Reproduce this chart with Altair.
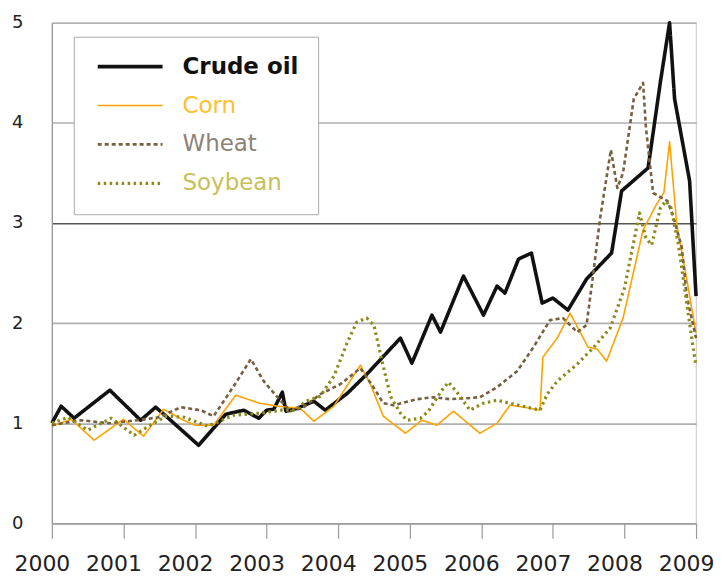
import altair as alt
import pandas as pd

# ---------------- data ----------------
series_names = ["Crude oil", "Corn", "Wheat", "Soybean"]
year_ticks = [2000, 2001, 2002, 2003, 2004, 2005, 2006, 2007, 2008, 2009]
value_ticks = [0, 1, 2, 3, 4, 5]

crude_t = [2000.00, 2000.13, 2000.31, 2000.81, 2001.24, 2001.45, 2001.58, 2002.05,
           2002.43, 2002.68, 2002.89, 2003.00, 2003.10, 2003.22, 2003.27, 2003.43,
           2003.66, 2003.82, 2004.13, 2004.40, 2004.87, 2005.03, 2005.31, 2005.43,
           2005.75, 2006.03, 2006.22, 2006.33, 2006.52, 2006.70, 2006.85, 2007.00,
           2007.21, 2007.47, 2007.82, 2007.96, 2008.33, 2008.50, 2008.63, 2008.70,
           2008.91, 2009.00]
crude_v = [1.00, 1.17, 1.05, 1.33, 1.03, 1.16, 1.08, 0.78,
           1.09, 1.13, 1.05, 1.13, 1.14, 1.31, 1.12, 1.15,
           1.22, 1.13, 1.30, 1.49, 1.85, 1.60, 2.08, 1.91,
           2.47, 2.08, 2.37, 2.30, 2.64, 2.70, 2.20, 2.25,
           2.13, 2.44, 2.70, 3.32, 3.55, 4.40, 5.00, 4.24,
           3.42, 2.27]

corn_t = [2000.00, 2000.27, 2000.59, 2001.00, 2001.28, 2001.56, 2001.84, 2002.00,
          2002.26, 2002.57, 2002.90, 2003.15, 2003.47, 2003.66, 2003.94, 2004.31,
          2004.45, 2004.63, 2004.94, 2005.17, 2005.38, 2005.61, 2005.98, 2006.22,
          2006.40, 2006.60, 2006.82, 2006.86, 2007.06, 2007.24, 2007.49, 2007.62,
          2007.75, 2007.98, 2008.26, 2008.45, 2008.55, 2008.63, 2008.73, 2008.87,
          2009.00]
corn_v = [0.97, 1.04, 0.83, 1.04, 0.87, 1.14, 1.03, 0.98,
          0.98, 1.28, 1.20, 1.17, 1.15, 1.02, 1.17, 1.58,
          1.39, 1.07, 0.90, 1.03, 0.98, 1.12, 0.90, 1.00,
          1.18, 1.16, 1.13, 1.66, 1.85, 2.10, 1.76, 1.74,
          1.62, 2.05, 2.93, 3.19, 3.30, 3.81, 2.99, 2.44,
          1.90]

wheat_t = [2000.00, 2000.40, 2000.80, 2001.20, 2001.50, 2001.80, 2002.08, 2002.26,
           2002.54, 2002.78, 2002.96, 2003.15, 2003.33, 2003.50, 2003.75, 2004.03,
           2004.31, 2004.52, 2004.63, 2004.77, 2005.10, 2005.33, 2005.56, 2005.80,
           2005.98, 2006.22, 2006.50, 2006.72, 2006.96, 2007.14, 2007.34, 2007.47,
           2007.56, 2007.66, 2007.81, 2007.90, 2007.98, 2008.13, 2008.26, 2008.30,
           2008.40, 2008.60, 2008.67, 2008.80, 2008.87, 2009.00]
wheat_v = [0.98, 1.03, 1.00, 1.03, 1.06, 1.16, 1.13, 1.07,
           1.37, 1.64, 1.42, 1.26, 1.12, 1.15, 1.29, 1.39,
           1.55, 1.33, 1.20, 1.18, 1.24, 1.26, 1.24, 1.25,
           1.26, 1.36, 1.52, 1.75, 2.03, 2.05, 1.91, 1.98,
           2.47, 3.05, 3.73, 3.35, 3.50, 4.24, 4.40, 3.95,
           3.30, 3.22, 3.09, 2.76, 2.27, 1.85]

soy_t = [2000.00, 2000.23, 2000.50, 2000.83, 2001.15, 2001.42, 2001.60, 2001.85,
         2002.18, 2002.54, 2002.90, 2003.20, 2003.40, 2003.55, 2003.75, 2003.94,
         2004.13, 2004.26, 2004.40, 2004.50, 2004.60, 2004.73, 2004.87, 2004.96,
         2005.15, 2005.26, 2005.43, 2005.54, 2005.66, 2005.84, 2006.03, 2006.22,
         2006.40, 2006.82, 2006.92, 2007.06, 2007.34, 2007.56, 2007.80, 2008.00,
         2008.21, 2008.30, 2008.38, 2008.50, 2008.58, 2008.65, 2008.75, 2008.87,
         2008.95, 2009.00]
soy_v = [1.00, 1.06, 0.93, 1.05, 0.88, 1.00, 1.07, 1.06,
         0.97, 1.08, 1.10, 1.13, 1.13, 1.22, 1.27, 1.47,
         1.81, 2.01, 2.05, 1.98, 1.66, 1.27, 1.10, 1.03,
         1.05, 1.12, 1.31, 1.41, 1.31, 1.13, 1.20, 1.23,
         1.20, 1.13, 1.29, 1.42, 1.59, 1.75, 1.95, 2.35,
         3.10, 2.85, 2.78, 3.15, 3.22, 3.15, 2.80, 2.20,
         1.80, 1.57]

# ---------------- styles ----------------
line_colors = ["#111111", "#FFA200", "#76603F", "#8C8A18"]
line_dashes = [[1, 0], [1, 0], [4, 3], [2.5, 3.5]]
line_widths = [3.6, 1.6, 2.6, 3.2]
label_color_expr = ("datum.value == 'Crude oil' ? '#111111' : "
                    "datum.value == 'Corn' ? '#FFC02E' : "
                    "datum.value == 'Wheat' ? '#8C8276' : '#C8C05A'")
label_weight_expr = "datum.value == 'Crude oil' ? 'bold' : 'normal'"

rows = []
for name, ts, vs in [("Crude oil", crude_t, crude_v), ("Corn", corn_t, corn_v),
                     ("Wheat", wheat_t, wheat_v), ("Soybean", soy_t, soy_v)]:
    for t, v in zip(ts, vs):
        rows.append({"series": name, "year": t, "value": v})
df = pd.DataFrame(rows)

legend = alt.Legend(
    title=None, orient="none", legendX=22, legendY=14,
    symbolType="stroke", symbolSize=4225, symbolStrokeWidth=2.8,
    symbolOffset=3, clipHeight=22,
    labelFont="DejaVu Sans", labelFontSize=23,
    labelColor={"expr": label_color_expr},
    labelFontWeight={"expr": label_weight_expr},
    labelOffset=18, rowPadding=16, padding=19,
    fillColor="white", strokeColor="#aaaaaa",
)

chart = alt.Chart(df).mark_line(strokeCap="butt", strokeJoin="round").encode(
    x=alt.X("year:Q",
            scale=alt.Scale(domain=[2000, 2009], nice=False, zero=False),
            axis=alt.Axis(values=year_ticks, format="d", title=None, grid=False,
                          tickSize=15, tickColor="#9a9a9a", tickWidth=1.2,
                          domainColor="#9a9a9a", domainWidth=1.2,
                          labelFont="DejaVu Sans", labelFontSize=22,
                          labelColor="#222222", labelPadding=15,
                          labelOffset=-10, labelFlush=False)),
    y=alt.Y("value:Q",
            scale=alt.Scale(domain=[0, 5], nice=False),
            axis=alt.Axis(values=value_ticks, title=None, ticks=False,
                          domainColor="#9a9a9a", domainWidth=1.2,
                          gridColor={"condition": {"test": "datum.value == 3", "value": "#555555"},
                                     "value": "#b0b0b0"},
                          gridWidth=1.6,
                          labelFont="DejaVu Sans", labelFontSize=18,
                          labelColor="#222222", labelPadding=29)),
    color=alt.Color("series:N", scale=alt.Scale(domain=series_names, range=line_colors),
                    legend=legend),
    strokeDash=alt.StrokeDash("series:N", scale=alt.Scale(domain=series_names, range=line_dashes),
                              legend=legend),
    strokeWidth=alt.StrokeWidth("series:N",
                                scale=alt.Scale(type="ordinal", domain=series_names, range=line_widths),
                                legend=None),
    order=alt.Order("year:Q"),
).properties(
    width=646, height=502,
    padding={"left": 3, "top": 5, "right": 0, "bottom": 0},
).configure_view(
    stroke="#d0d0d0", strokeWidth=1.2
)

chart.save("out.html", embed_options={"renderer": "svg", "actions": False})
